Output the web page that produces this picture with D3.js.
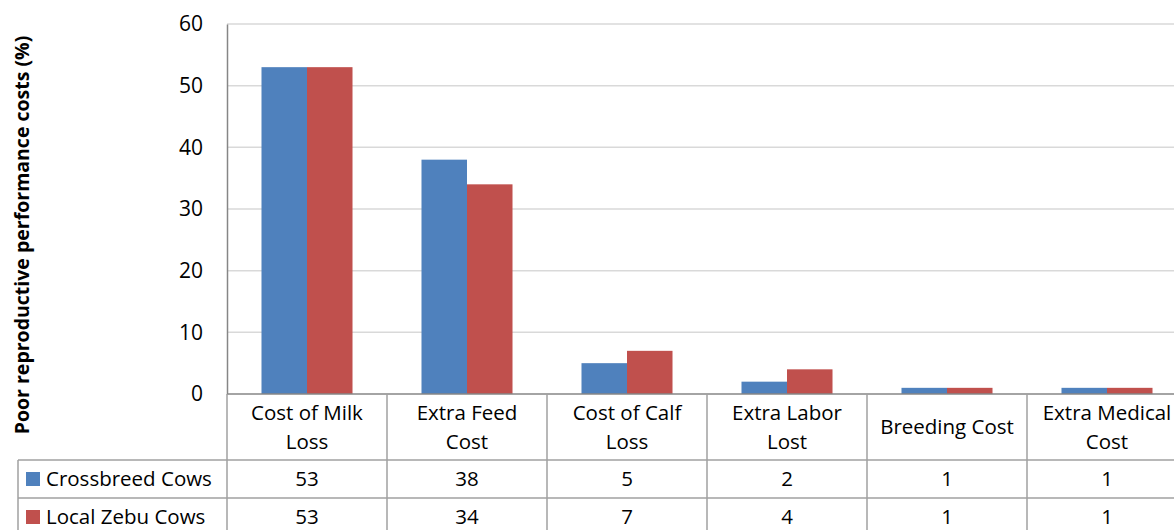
<!DOCTYPE html>
<html>
<head>
<meta charset="utf-8">
<script src="https://cdn.jsdelivr.net/npm/d3@7"></script>
<style>
body { margin: 0; background: #fff; }
svg text { font-family: "Open Sans", Lato, sans-serif; fill: #000; }
</style>
</head>
<body>
<script>
var categories = ["Cost of Milk Loss", "Extra Feed Cost", "Cost of Calf Loss", "Extra Labor Lost", "Breeding Cost", "Extra Medical Cost"];
var categoryLines = [["Cost of Milk", "Loss"], ["Extra Feed", "Cost"], ["Cost of Calf", "Loss"], ["Extra Labor", "Lost"], ["Breeding Cost"], ["Extra Medical", "Cost"]];
var seriesNames = ["Crossbreed Cows", "Local Zebu Cows"];
var crossbreed = [53, 38, 5, 2, 1, 1];
var localZebu = [53, 34, 7, 4, 1, 1];
var yTicks = [0, 10, 20, 30, 40, 50, 60];
var colors = ["#4F81BD", "#C0504D"];

var w = 1174, h = 530;
var plotLeft = 227, plotRight = 1187, plotTop = 24, plotBottom = 394;
var rowH = 38, catRowBottom = 460;
var fontSize = 20.5;

var svg = d3.select("body").append("svg").attr("width", w).attr("height", h);

var x0 = d3.scaleBand().domain(categories).range([plotLeft, plotRight]).paddingInner(0).paddingOuter(0);
var x1 = d3.scaleBand().domain(seriesNames).range([0, x0.bandwidth()]).paddingInner(0).paddingOuter(0.758);
var y = d3.scaleLinear().domain([0, 60]).range([plotBottom, plotTop]);

// gridlines
svg.append("g").selectAll("line").data(yTicks.filter(function(d){ return d > 0; })).enter().append("line")
	.attr("x1", plotLeft).attr("x2", plotRight)
	.attr("y1", function(d){ return y(d); }).attr("y2", function(d){ return y(d); })
	.attr("stroke", "#d9d9d9").attr("stroke-width", 1.5);

// y axis
var yAxis = d3.axisLeft(y).tickValues(yTicks).tickSize(0).tickPadding(24);
var gy = svg.append("g").attr("transform", "translate(" + plotLeft + ",0)").call(yAxis);
gy.select(".domain").attr("stroke", "#868686").attr("stroke-width", 1.5);
gy.selectAll("text").attr("font-size", 21).attr("font-family", "'Open Sans', sans-serif").attr("fill", "#000");

// bars
var seriesData = [crossbreed, localZebu];
seriesNames.forEach(function(s, si){
	svg.append("g").selectAll("rect").data(seriesData[si]).enter().append("rect")
		.attr("x", function(d, i){ return x0(categories[i]) + x1(s); })
		.attr("width", x1.bandwidth())
		.attr("y", function(d){ return y(d); })
		.attr("height", function(d){ return y(0) - y(d); })
		.attr("fill", colors[si]);
});

// data table
var tableColor = "#a0a0a0";
var tbl = svg.append("g");
var tableLeft = 18;
tbl.append("line").attr("x1", plotLeft).attr("x2", plotRight).attr("y1", plotBottom).attr("y2", plotBottom).attr("stroke", "#868686").attr("stroke-width", 1.5);
[catRowBottom, catRowBottom + rowH, catRowBottom + 2 * rowH].forEach(function(yy){
	tbl.append("line").attr("x1", tableLeft).attr("x2", plotRight).attr("y1", yy).attr("y2", yy).attr("stroke", tableColor).attr("stroke-width", 1.5);
});
var bounds = categories.map(function(c){ return x0(c); }).concat([plotRight]);
bounds.forEach(function(bx){
	tbl.append("line").attr("x1", bx).attr("x2", bx).attr("y1", plotBottom).attr("y2", h).attr("stroke", tableColor).attr("stroke-width", 1.5);
});
tbl.append("line").attr("x1", tableLeft).attr("x2", tableLeft).attr("y1", catRowBottom).attr("y2", h).attr("stroke", tableColor).attr("stroke-width", 1.5);

// category labels
categories.forEach(function(c, i){
	var lines = categoryLines[i];
	var cx = x0(c) + x0.bandwidth() / 2;
	var startY = lines.length === 1 ? 434 : 420;
	lines.forEach(function(l, li){
		tbl.append("text").attr("x", cx).attr("y", startY + li * 29)
			.attr("text-anchor", "middle").attr("font-size", fontSize).text(l);
	});
});

// series rows
seriesNames.forEach(function(s, si){
	var ry = catRowBottom + si * rowH;
	tbl.append("rect").attr("x", 26).attr("y", ry + 12).attr("width", 14).attr("height", 14).attr("fill", colors[si]);
	tbl.append("text").attr("x", 46).attr("y", ry + 26).attr("font-size", fontSize).text(s);
	seriesData[si].forEach(function(v, i){
		tbl.append("text").attr("x", x0(categories[i]) + x0.bandwidth() / 2).attr("y", ry + 26)
			.attr("text-anchor", "middle").attr("font-size", fontSize).text(v);
	});
});

// y axis title
svg.append("text")
	.attr("transform", "translate(29," + 235 + ") rotate(-90)")
	.attr("text-anchor", "middle").attr("font-size", 19.5).attr("font-weight", "bold")
	.text("Poor reproductive performance costs (%)");
</script>
</body>
</html>
